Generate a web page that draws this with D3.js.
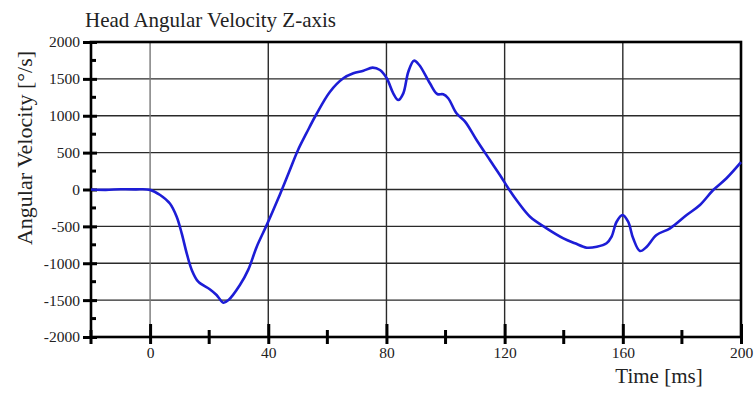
<!DOCTYPE html>
<html><head><meta charset="utf-8">
<script src="https://cdn.jsdelivr.net/npm/d3@7"></script>
<style>body{margin:0;background:#fff}svg{display:block}</style>
</head><body>
<svg id="c" width="755" height="394"></svg>
<script>
const title = "Head Angular Velocity Z-axis";
const xTitle = "Time [ms]";
const yTitle = "Angular Velocity [°/s]";
const xTickValues = [0, 40, 80, 120, 160, 200];
const xMinorTicks = [-20, 20, 60, 100, 140, 180];
const yTickValues = [-2000, -1500, -1000, -500, 0, 500, 1000, 1500, 2000];
const yMinorTicks = [-1750, -1250, -750, -250, 250, 750, 1250, 1750];
const times = [-20,-15,-10,-5,0,3.4,6.7,9,10.7,12.4,14.1,16.3,20.3,22.5,24.8,26.5,30.4,33.2,36.1,39.5,43.4,47,50,53,56,60.9,65.4,68.8,72.2,75.3,77.8,80.1,82.3,84,85.7,87.4,89.3,91.1,94.7,97.2,99.2,100.9,103.7,106.6,110.5,115,118.4,121.5,124.5,128.6,134.2,139.9,143.8,147.8,151.2,154.5,156.2,157.9,159.9,161.8,163.5,165.8,168.1,171.4,176,181.6,186.1,190.6,195.1,200];
const velocity = [0,-5,3,2,-5,-75,-190,-370,-595,-865,-1090,-1250,-1355,-1430,-1535,-1500,-1295,-1090,-775,-480,-120,235,530,770,1000,1326,1508,1576,1611,1652,1620,1508,1304,1213,1304,1597,1747,1688,1440,1295,1291,1237,1033,920,671,400,197,0,-170,-369,-526,-662,-729,-789,-776,-729,-640,-437,-346,-437,-662,-834,-776,-617,-526,-346,-210,-7,152,370];

const svg = d3.select("#c");
const L = 91, R = 741, T = 42, B = 337;
const x = d3.scaleLinear().domain([-20, 200]).range([L, R]);
const y = d3.scaleLinear().domain([-2000, 2000]).range([B, T]);
const serif = "'Liberation Serif','Times New Roman',serif";
const fmt = d => String(d);

// grid
svg.append("g").selectAll("line").data(yTickValues.filter(v => v > -2000 && v < 2000)).join("line")
  .attr("x1", L).attr("x2", R).attr("y1", d => y(d)).attr("y2", d => y(d))
  .attr("stroke", "#2a2a2a").attr("stroke-width", 1.4);
svg.append("g").selectAll("line").data(xTickValues.filter(v => v < 200)).join("line")
  .attr("y1", T).attr("y2", B).attr("x1", d => x(d)).attr("x2", d => x(d))
  .attr("stroke", d => d === 0 ? "#777" : "#2a2a2a").attr("stroke-width", 1.4);

// frame
svg.append("rect").attr("x", L).attr("y", T).attr("width", R - L).attr("height", B - T)
  .attr("fill", "none").attr("stroke", "#000").attr("stroke-width", 2.6);

// y axis ticks
const yAxis = d3.axisLeft(y).tickValues(yTickValues).tickSize(8).tickPadding(3).tickFormat(fmt);
const gy = svg.append("g").attr("transform", `translate(${L},0)`).call(yAxis)
  .attr("font-family", serif).attr("font-size", 15.5);
gy.select(".domain").remove();
gy.selectAll(".tick line").attr("stroke", "#000").attr("stroke-width", 3).attr("x2", -8).attr("x1", 6);
gy.selectAll(".tick text").style("font-family", serif).style("font-size", "15.5px").attr("fill", "#222");
svg.append("g").selectAll("line").data(yMinorTicks).join("line")
  .attr("x1", L - 1).attr("x2", L + 5).attr("y1", d => y(d)).attr("y2", d => y(d))
  .attr("stroke", "#000").attr("stroke-width", 3);

// x axis ticks
const xAxis = d3.axisBottom(x).tickValues(xTickValues).tickSize(7).tickPadding(12).tickFormat(fmt);
const gx = svg.append("g").attr("transform", `translate(0,${B})`).call(xAxis)
  .attr("font-family", serif).attr("font-size", 15.5);
gx.select(".domain").remove();
gx.selectAll(".tick line").attr("stroke", "#000").attr("stroke-width", 3).attr("y1", -13).attr("y2", 7);
gx.selectAll(".tick text").style("font-family", serif).style("font-size", "15.5px").attr("fill", "#222")
  .attr("y", 21).attr("dy", "0");
svg.append("g").selectAll("line").data(xMinorTicks).join("line")
  .attr("x1", d => x(d)).attr("x2", d => x(d)).attr("y1", B - 7).attr("y2", B + 7)
  .attr("stroke", "#000").attr("stroke-width", 3);

// line
const pts = times.map((t, i) => [t, velocity[i]]);
svg.append("path").datum(pts)
  .attr("d", d3.line().x(d => x(d[0])).y(d => y(d[1])).curve(d3.curveCatmullRom.alpha(0.5)))
  .attr("fill", "none").attr("stroke", "#1d1dd6").attr("stroke-width", 2.6).attr("stroke-linejoin", "round");

// titles
svg.append("text").attr("x", 85).attr("y", 27).style("font-family", serif).style("font-size", "21px")
  .attr("fill", "#222").text(title);
svg.append("text").attr("transform", "translate(32,148) rotate(-90)").attr("text-anchor", "middle")
  .style("font-family", serif).style("font-size", "22px").attr("fill", "#222").text(yTitle);
svg.append("text").attr("x", 659).attr("y", 383).attr("text-anchor", "middle")
  .style("font-family", serif).style("font-size", "21px").attr("fill", "#222").text(xTitle);
</script>
</body></html>
